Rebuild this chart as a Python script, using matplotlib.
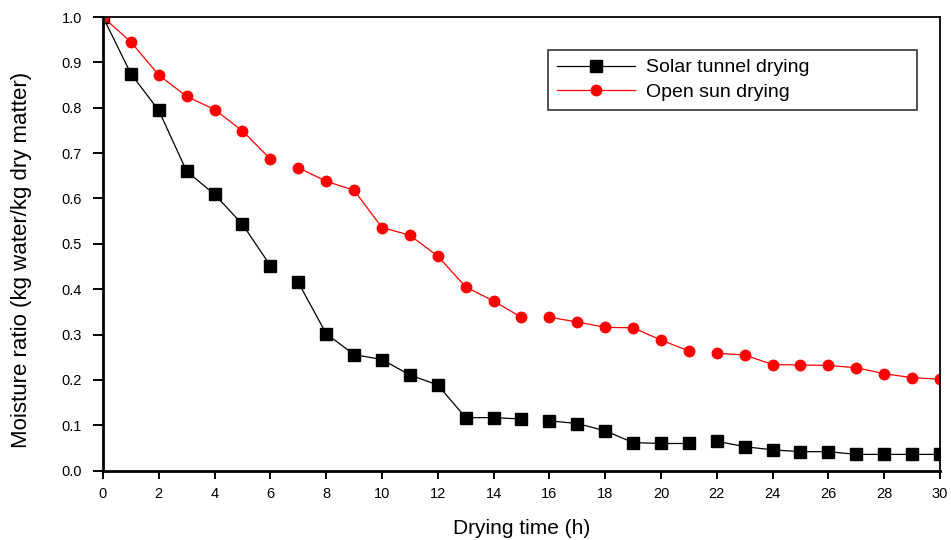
import numpy as np
import matplotlib
matplotlib.use("Agg")
import matplotlib.pyplot as plt

plt.rcParams['font.family'] = ['Liberation Sans', 'DejaVu Sans']

hours = list(range(0, 31))

solar_tunnel = [1.0, 0.875, 0.794, 0.660, 0.609, 0.543, 0.452, 0.415, 0.302, 0.256,
                0.245, 0.211, 0.189, 0.117, 0.117, 0.114, 0.110, 0.104, 0.088, 0.062,
                0.060, 0.060, 0.065, 0.053, 0.046, 0.042, 0.042, 0.036, 0.036, 0.036,
                0.036]

open_sun = [1.0, 0.945, 0.872, 0.825, 0.796, 0.749, 0.687, 0.668, 0.638, 0.618,
            0.536, 0.519, 0.473, 0.405, 0.374, 0.338, 0.338, 0.328, 0.316, 0.315,
            0.288, 0.264, 0.259, 0.255, 0.234, 0.233, 0.232, 0.227, 0.214, 0.205,
            0.202]

# the connecting line is broken between these runs of points
segments = [(0, 6), (7, 15), (16, 21), (22, 30)]

x_ticks = list(range(0, 31, 2))
y_ticks = [0.0, 0.1, 0.2, 0.3, 0.4, 0.5, 0.6, 0.7, 0.8, 0.9, 1.0]

fig = plt.figure(figsize=(9.51, 5.40), dpi=100)
ax = fig.add_axes([0.1083, 0.1283, 0.8801, 0.8402])

def draw(values, color, marker, ms, label):
    x = np.array(hours)
    y = np.array(values)
    for a, b in segments:
        ax.plot(x[a:b + 1], y[a:b + 1], color=color, lw=0.9)
    ax.plot(x, y, ls='none', marker=marker, ms=ms, color=color)
    # proxy for legend
    ax.plot([], [], color=color, lw=0.9, marker=marker, ms=ms, label=label)

draw(solar_tunnel, 'black', 's', 8.5, 'Solar tunnel drying')
draw(open_sun, '#ff0000', 'o', 7.5, 'Open sun drying')

ax.set_xlim(0, 30)
ax.set_ylim(0, 1.0)
ax.set_xticks(x_ticks)
ax.set_yticks(y_ticks)
ax.set_yticklabels([f"{v:.1f}" for v in y_ticks])

ax.tick_params(axis='both', direction='out', labelsize=10.5, width=1.4)
ax.tick_params(axis='y', length=7, pad=8)
ax.tick_params(axis='x', length=6, pad=6)

for side in ['left', 'bottom']:
    ax.spines[side].set_linewidth(2)
for side in ['top', 'right']:
    ax.spines[side].set_linewidth(1.3)

ax.set_xlabel("Drying time (h)", fontsize=15, labelpad=13)
ax.set_ylabel("Moisture ratio (kg water/kg dry matter)", fontsize=16)
ax.yaxis.set_label_coords(-0.085, 0.464)

leg = ax.legend(loc='upper left', bbox_to_anchor=(0.5317, 0.827, 0.4409, 0.1),
                mode='expand', fontsize=14, handlelength=4.0, frameon=True,
                fancybox=False, borderpad=0.45, labelspacing=0.35,
                handletextpad=0.6, borderaxespad=0)
leg.get_frame().set_edgecolor('black')
leg.get_frame().set_linewidth(1.2)

fig.savefig("out.png", dpi=100)
